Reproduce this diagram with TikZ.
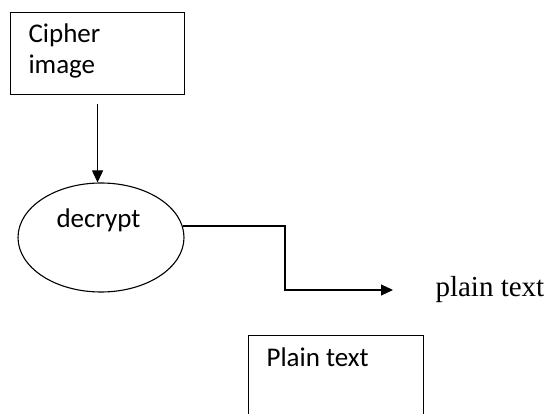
\documentclass[tikz,border=0pt]{standalone}
\usepackage{fontspec}
\setmainfont{Carlito}
\newfontfamily\serifface{Liberation Serif}
\usetikzlibrary{arrows.meta,shapes.geometric}

\begin{document}
\begin{tikzpicture}[x=1pt,y=-1pt,
  line width=1.1pt,
  boxshape/.style={draw, rectangle, inner sep=0pt},
  labeltext/.style={inner sep=0pt, anchor=base west, align=left,
    font=\fontsize{27}{31}\selectfont},
  flow/.style={-{Triangle[length=12pt,width=11pt]}},
]
\useasboundingbox (0,0) rectangle (550,414);

% input box
\node[boxshape, minimum width=174pt, minimum height=82pt, anchor=north west]
  (cipher) at (10,12) {};
% base anchor of a two-line node sits on its last line
\node[labeltext] (cipherlabel) at (28,74) {Cipher\\image};

% decryption step
\node[draw, ellipse, minimum width=166pt, minimum height=109pt, inner sep=0pt]
  (dec) at (101,237.5) {};
\node[labeltext] (declabel) at (56,228) {decrypt};

% output label
\node[inner sep=0pt, anchor=base west, font=\serifface\fontsize{29}{34}\selectfont]
  (plainout) at (435,297) {plain text};
\coordinate (outend) at (393,290);

% result box, running past the lower edge
\node[boxshape, minimum width=175pt, minimum height=90pt, anchor=north west]
  (plainbox) at (248,335) {};
\node[labeltext] (plainlabel) at (266,367) {Plain text};

% connectors
\draw[flow] ([yshift=-9pt]cipher.south) -- (dec.north -| cipher.south);
\draw[flow] (dec.8) -| (285,290) -- (outend);
\end{tikzpicture}
\end{document}
